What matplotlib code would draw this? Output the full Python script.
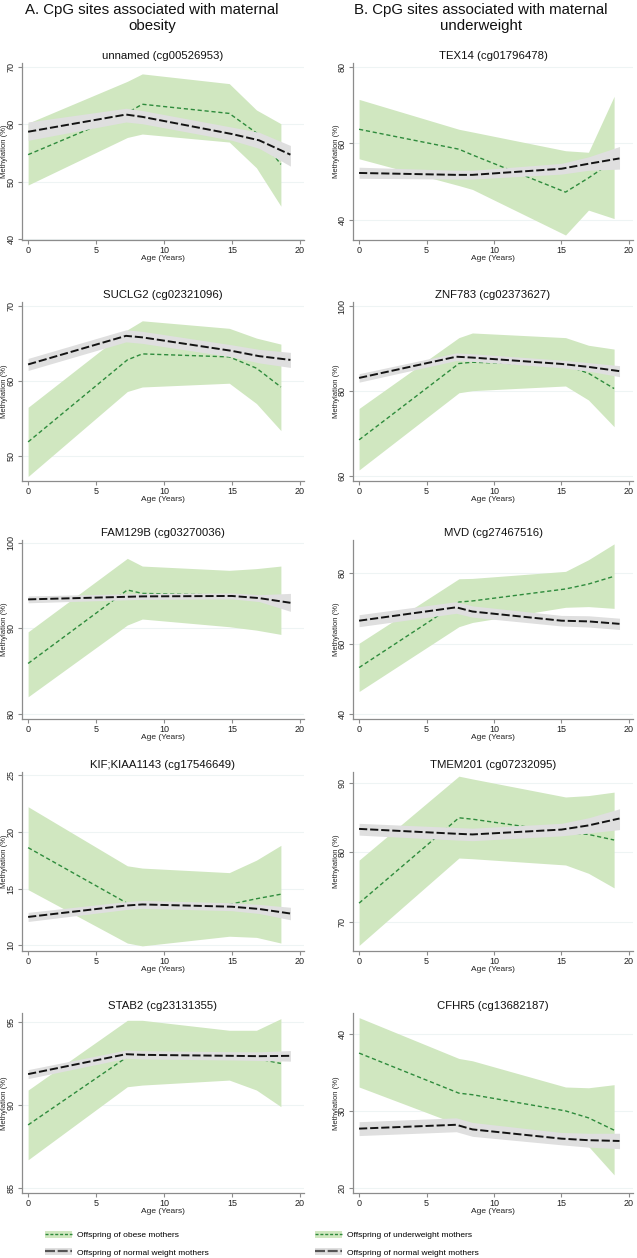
import matplotlib
matplotlib.use("Agg")
import matplotlib.pyplot as plt
from matplotlib.patches import Patch
from matplotlib.lines import Line2D
from matplotlib.legend_handler import HandlerTuple

plt.rcParams['font.family'] = ['Liberation Sans', 'DejaVu Sans']

# ---------------- data ----------------
headers = ["A. CpG sites associated with maternal\nobesity",
           "B. CpG sites associated with maternal\nunderweight"]

titles = ["unnamed (cg00526953)", "SUCLG2 (cg02321096)", "FAM129B (cg03270036)",
          "KIF;KIAA1143 (cg17546649)", "STAB2 (cg23131355)",
          "TEX14 (cg01796478)", "ZNF783 (cg02373627)", "MVD (cg27467516)",
          "TMEM201 (cg07232095)", "CFHR5 (cg13682187)"]

green_age_left = [0, 7.3, 8.4, 14.8, 16.8, 18.6]
green_age_right = [0, 7.4, 8.4, 15.3, 17.0, 18.9]
black_age = [0, 7.2, 8.4, 15.0, 17.0, 19.3]

green_mean = [
    [54.7, 62.0, 63.5, 61.9, 58.5, 53.0],
    [51.9, 62.8, 63.6, 63.2, 61.7, 59.2],
    [85.9, 94.5, 94.1, 93.9, 93.6, 93.3],
    [18.6, 13.7, 13.6, 13.6, 14.1, 14.5],
    [88.8, 92.9, 92.9, 92.9, 92.8, 92.5],
    [63.7, 58.5, 57.0, 47.3, 51.0, 55.5],
    [68.5, 86.5, 86.8, 86.1, 84.2, 80.6],
    [53.2, 71.8, 72.1, 75.5, 76.9, 79.1],
    [72.7, 85.0, 84.8, 82.9, 82.6, 81.8],
    [37.5, 32.3, 32.1, 30.0, 29.1, 27.5],
]
green_lo = [
    [49.4, 57.7, 58.3, 56.9, 52.4, 45.7],
    [47.3, 58.6, 59.2, 59.7, 57.0, 53.4],
    [82.0, 90.4, 91.1, 90.2, 89.8, 89.3],
    [14.9, 10.2, 9.95, 10.8, 10.7, 10.2],
    [86.7, 91.1, 91.2, 91.5, 90.9, 89.9],
    [56.0, 49.0, 48.0, 36.1, 42.6, 40.4],
    [61.4, 79.6, 80.1, 81.2, 77.9, 71.6],
    [46.4, 64.8, 66.0, 70.3, 70.5, 70.0],
    [66.6, 79.2, 79.1, 78.2, 77.0, 74.9],
    [33.1, 28.2, 28.0, 27.1, 25.4, 21.7],
]
green_hi = [
    [60.2, 67.5, 68.8, 67.1, 62.5, 60.1],
    [56.5, 66.8, 68.0, 67.0, 65.7, 64.9],
    [89.6, 98.2, 97.3, 96.8, 97.0, 97.3],
    [22.2, 17.0, 16.8, 16.4, 17.5, 18.8],
    [90.9, 95.1, 95.1, 94.5, 94.5, 95.2],
    [71.5, 63.7, 63.0, 58.1, 57.7, 72.3],
    [75.9, 92.6, 93.7, 92.6, 90.8, 89.9],
    [60.1, 78.4, 78.5, 80.5, 83.8, 88.3],
    [78.9, 91.0, 90.6, 88.0, 88.2, 88.7],
    [42.1, 36.8, 36.5, 33.1, 33.0, 33.4],
]
black_mean = [
    [58.7, 61.7, 61.3, 58.3, 57.2, 54.7],
    [62.2, 66.0, 65.8, 64.0, 63.3, 62.8],
    [93.4, 93.7, 93.75, 93.8, 93.55, 93.0],
    [12.5, 13.5, 13.6, 13.4, 13.2, 12.8],
    [91.86, 93.06, 93.02, 92.96, 92.94, 92.96],
    [52.3, 51.8, 51.8, 53.4, 54.7, 56.1],
    [83.1, 88.1, 87.9, 86.4, 85.7, 84.7],
    [66.5, 70.3, 69.1, 66.5, 66.3, 65.6],
    [83.4, 82.7, 82.6, 83.3, 83.9, 84.9],
    [27.7, 28.2, 27.6, 26.4, 26.2, 26.1],
]
black_lo = [
    [57.2, 60.4, 60.1, 57.2, 55.8, 52.7],
    [61.4, 65.2, 65.0, 63.2, 62.4, 61.8],
    [93.0, 93.35, 93.4, 93.45, 93.15, 92.0],
    [12.1, 13.15, 13.25, 13.05, 12.8, 12.25],
    [91.59, 92.81, 92.77, 92.71, 92.68, 92.64],
    [50.9, 50.7, 50.7, 52.0, 53.0, 53.3],
    [82.1, 87.2, 87.0, 85.5, 84.7, 83.4],
    [64.8, 68.6, 67.5, 65.0, 64.7, 64.0],
    [82.5, 81.8, 81.7, 82.4, 82.8, 83.3],
    [26.8, 27.3, 26.7, 25.6, 25.3, 25.1],
]
black_hi = [
    [60.4, 62.8, 62.4, 59.5, 58.6, 56.3],
    [63.0, 66.8, 66.6, 64.8, 64.2, 63.8],
    [93.8, 94.05, 94.1, 94.15, 93.95, 94.1],
    [12.9, 13.85, 13.95, 13.75, 13.6, 13.35],
    [92.13, 93.31, 93.27, 93.21, 93.2, 93.28],
    [53.8, 53.0, 53.0, 54.8, 56.5, 59.2],
    [84.1, 89.0, 88.8, 87.3, 86.7, 86.0],
    [68.2, 71.9, 70.7, 68.0, 67.9, 67.2],
    [84.2, 83.6, 83.5, 84.2, 85.0, 86.3],
    [28.6, 29.1, 28.5, 27.2, 27.1, 27.1],
]
y_ticks = [
    [40, 50, 60, 70], [50, 60, 70], [80, 90, 100], [10, 15, 20, 25], [85, 90, 95],
    [40, 60, 80], [60, 80, 100], [40, 60, 80], [70, 80, 90], [20, 30, 40],
]
y_limits = [
    (39.8, 70.7), (46.7, 70.5), (79.4, 100.35), (9.5, 25.26), (84.7, 95.54),
    (34.8, 81.0), (58.8, 101.0), (38.6, 89.4), (65.8, 91.6), (19.35, 42.7),
]
x_ticks = [0, 5, 10, 15, 20]
legend_labels = [["Offspring of obese mothers", "Offspring of normal weight mothers"],
                 ["Offspring of underweight mothers", "Offspring of normal weight mothers"]]

# ---------------- style ----------------
W, H = 637, 1258
GREEN_FILL = "#d0e7c0"
GREEN_LINE = "#2e8b3c"
GRAY_FILL = "#dfdfdf"
BLACK = "#141414"
AXIS_GRAY = "#8c8c8c"

fig = plt.figure(figsize=(W / 100, H / 100), dpi=100)
fig.patch.set_facecolor("white")

col_x = [(22, 304), (353, 633)]
row_y = [(63, 240), (302, 481), (540, 719), (772, 951), (1013, 1193)]
header_x = [152, 481]
ylabel_x = [5, 336]


def px_rect(x0, x1, y0, y1):
    return [x0 / W, 1 - y1 / H, (x1 - x0) / W, (y1 - y0) / H]


for c in range(2):
    fig.text(header_x[c] / W, 1 - 18 / H, headers[c], ha="center", va="center",
             fontsize=10.8, color="#111111", linespacing=1.1)
    for r in range(5):
        i = c * 5 + r
        x0, x1 = col_x[c]
        y0, y1 = row_y[r]
        ax = fig.add_axes(px_rect(x0, x1, y0, y1))
        gage = green_age_left if c == 0 else green_age_right
        ax.fill_between(gage, green_lo[i], green_hi[i], color=GREEN_FILL, lw=0, zorder=1)
        ax.plot(gage, green_mean[i], color=GREEN_LINE, lw=1.0, dashes=(3, 2), zorder=2)
        ax.fill_between(black_age, black_lo[i], black_hi[i], color=GRAY_FILL, lw=0, zorder=3)
        ax.plot(black_age, black_mean[i], color=BLACK, lw=1.4, dashes=(4.2, 1.5), zorder=4)

        ax.set_xlim(-0.45, 20.3)
        ax.set_ylim(*y_limits[i])
        ax.set_xticks(x_ticks)
        ax.set_yticks(y_ticks[i])
        ax.grid(axis="y", color="#eef4f4", lw=0.8, zorder=0)
        ax.set_axisbelow(True)
        for s in ["top", "right"]:
            ax.spines[s].set_visible(False)
        for s in ["left", "bottom"]:
            ax.spines[s].set_color(AXIS_GRAY)
            ax.spines[s].set_linewidth(0.9)
        ax.tick_params(axis="both", colors=AXIS_GRAY, labelcolor="#222222",
                       length=3, width=0.8, labelsize=6.5, pad=1.5)
        for lab in ax.get_yticklabels():
            lab.set_rotation(90)
            lab.set_va("center")
        ax.set_xlabel("Age (Years)", fontsize=6, labelpad=0, color="#222222")
        ax.set_ylabel("Methylation (%)", fontsize=5.5, color="#222222")
        ax.yaxis.label.set_va("center")
        ax.yaxis.set_label_coords((ylabel_x[c] - x0) / (x1 - x0), 0.5)
        ax.set_title(titles[i], fontsize=8.2, pad=3, color="#111111")

# legends
leg_x = [45, 315]
for c in range(2):
    g_handle = (Patch(facecolor=GREEN_FILL, edgecolor="none"),
                Line2D([], [], color=GREEN_LINE, lw=1.0, dashes=(2.2, 1.3)))
    b_handle = (Patch(facecolor=GRAY_FILL, edgecolor="none"),
                Line2D([], [], color="#555555", lw=1.6, dashes=(4.5, 1.2)))
    fig.legend([g_handle, b_handle], legend_labels[c],
               loc="upper left", bbox_to_anchor=(leg_x[c] / W, 1 - 1231 / H),
               frameon=False, fontsize=6.0, handlelength=3.25, handleheight=0.95,
               handletextpad=0.6, labelspacing=1.05, borderpad=0.0, borderaxespad=0.0,
               handler_map={tuple: HandlerTuple(ndivide=1, pad=0)})

fig.savefig("out.png", dpi=100, facecolor="white")
